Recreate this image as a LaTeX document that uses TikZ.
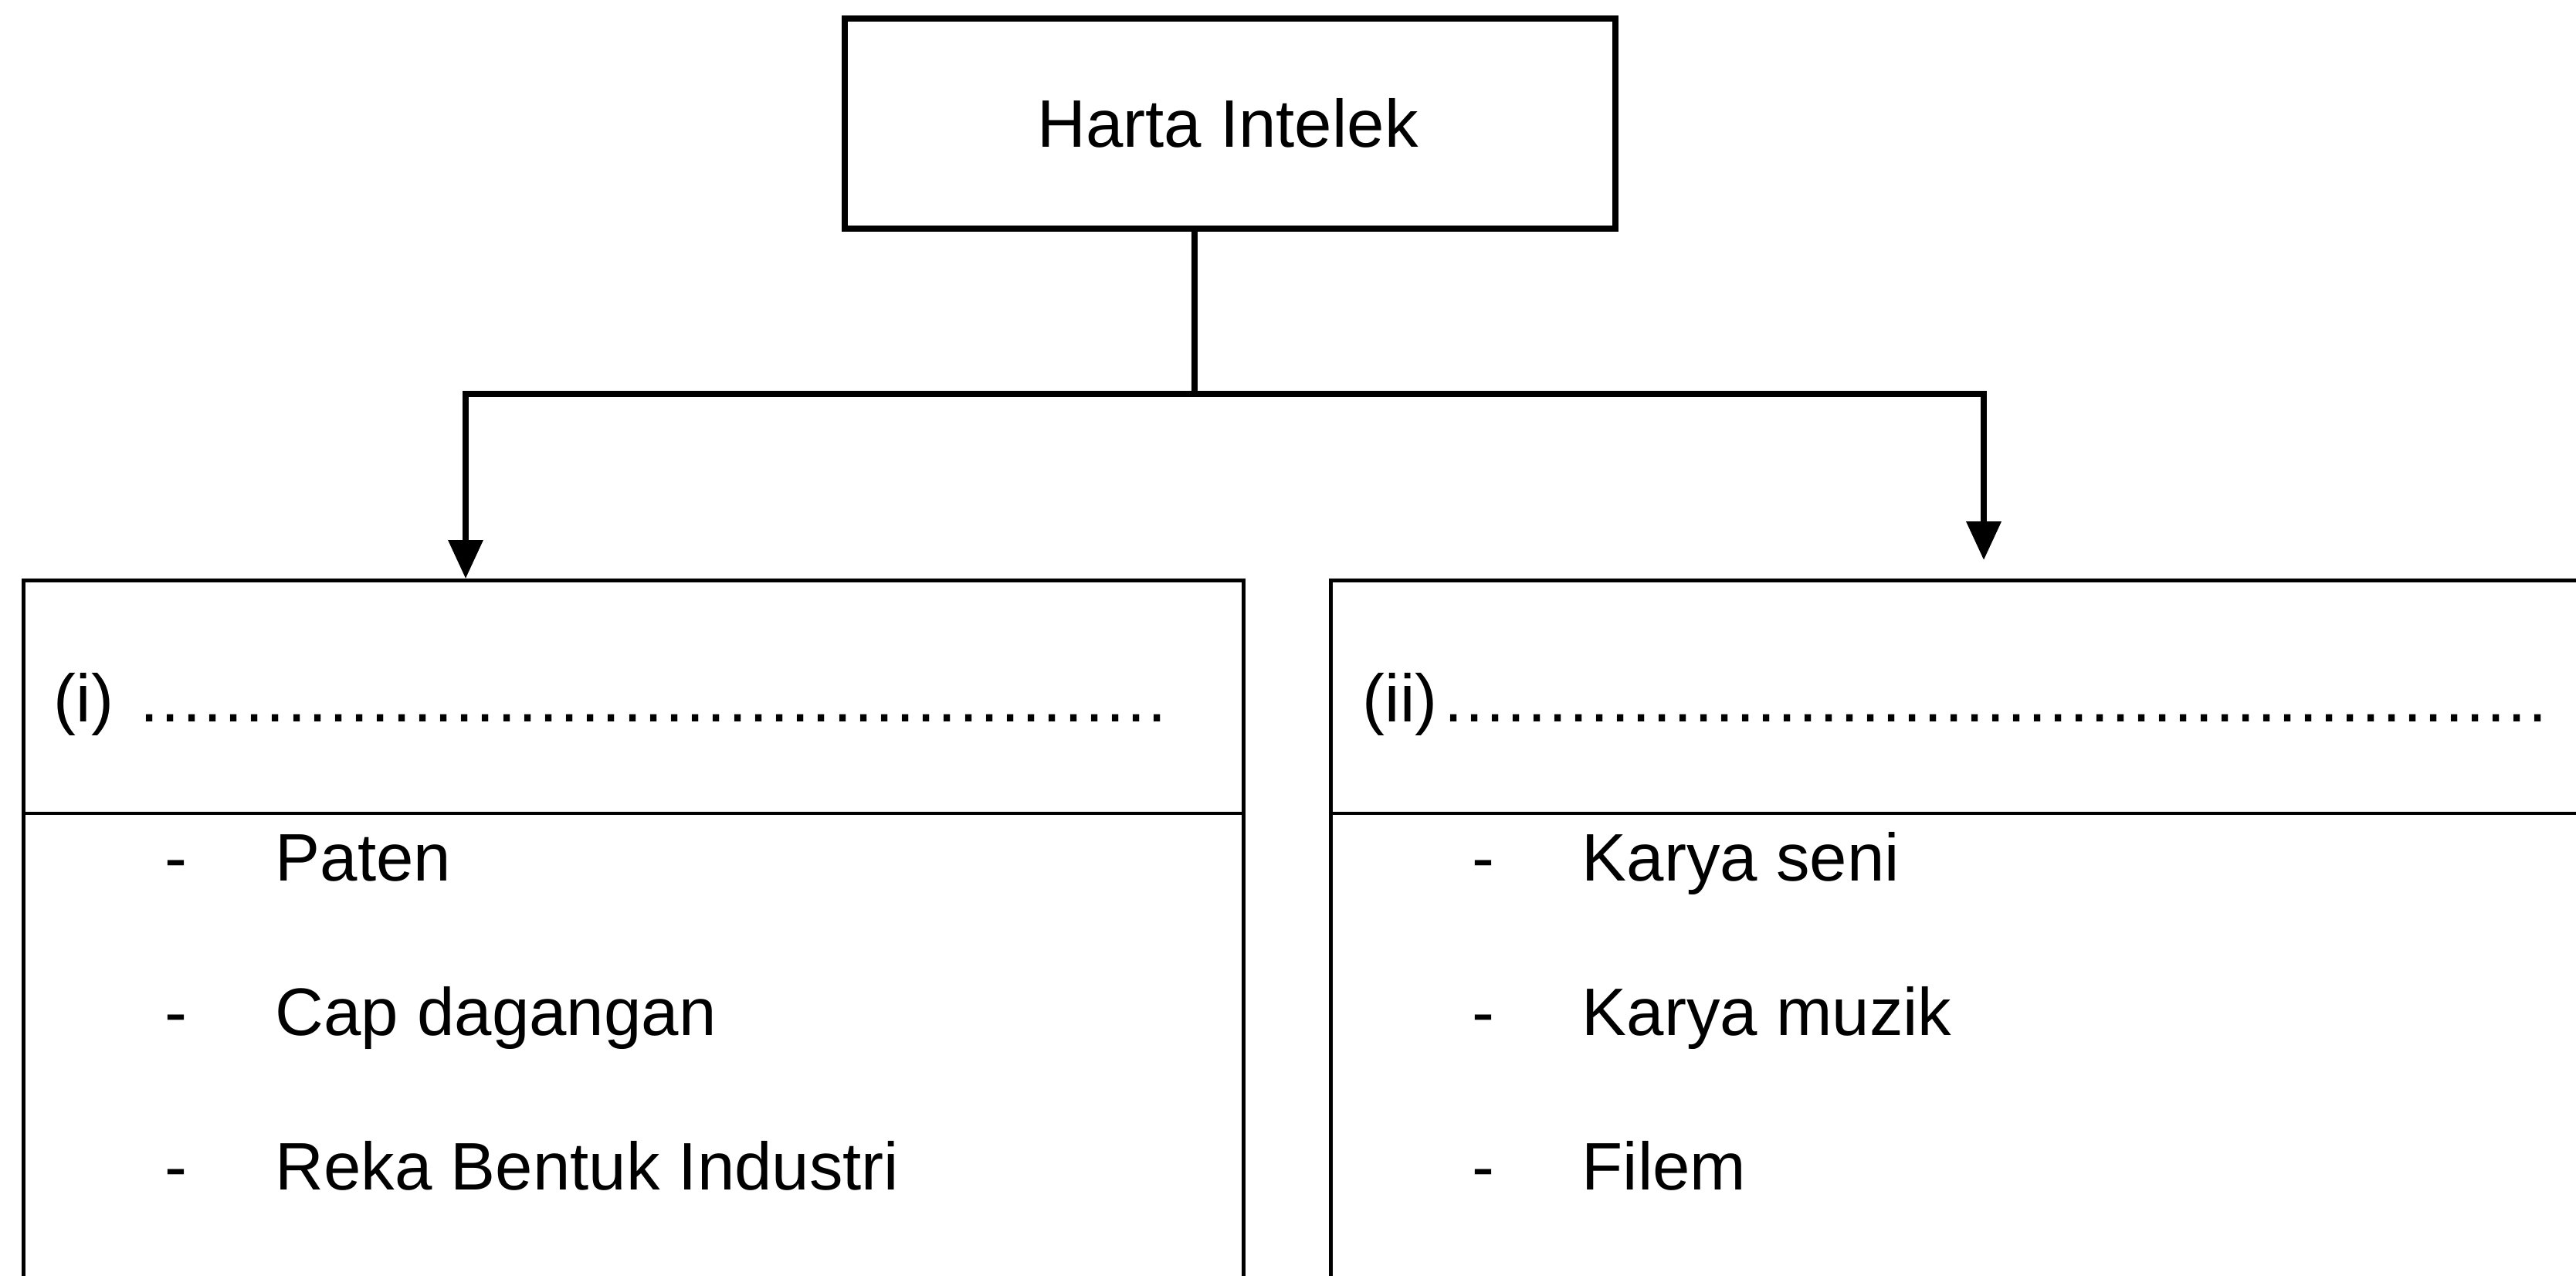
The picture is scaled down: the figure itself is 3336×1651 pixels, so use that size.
\documentclass[tikz,border=0pt]{standalone}
\usepackage{fontspec}
\setmainfont{Liberation Sans}
\usetikzlibrary{arrows.meta,calc}
\newlength\pxu
\setlength\pxu{0.25pt}
\newcommand\mydots[1]{\hbox to #1\pxu{\xleaders\hbox to 26.7\pxu{\hss.\hss}\hfill}}
\begin{document}
\begin{tikzpicture}[x=0.25pt,y=-0.25pt,
  box/.style={draw, line width=1.2pt, rectangle, inner sep=0pt, anchor=north west},
  topbox/.style={draw, line width=2.1pt, rectangle, inner sep=0pt, anchor=north west},
  txt/.style={anchor=base west, inner sep=0pt, font=\fontsize{21.75pt}{26pt}\selectfont},
  conn/.style={line width=1.8pt, line join=miter},
  arr/.style={-{Triangle[width=11pt,length=12.5pt]}}]
\useasboundingbox (0,0) rectangle (3336,1651);
\clip (0,0) rectangle (3336,1651);
\fill[white] (0,0) rectangle (3336,1651);

% boxes
\node[topbox, minimum width=998\pxu, minimum height=272\pxu] (top) at (1090,20) {};
\node[box, minimum width=1580\pxu, minimum height=1000\pxu] (lbox) at (28,749) {};
\node[box, minimum width=1700\pxu, minimum height=1000\pxu] (rbox) at (1721,749) {};

% dividers
\coordinate (dv) at (0,1053);
\draw[line width=1.2pt] (lbox.west |- dv) -- (lbox.east |- dv);
\draw[line width=1.2pt] (rbox.west |- dv) -- (rbox.east |- dv);

% connectors
\coordinate (jc) at (1547,510);
\coordinate (jl) at (603,510);
\coordinate (jr) at (2569,510);
\coordinate (rtip) at (2569,725);
\draw[conn] (jc |- top.south) -- (jc);
\draw[conn, arr] (jc) -- (jl) -- (jl |- lbox.north);
\draw[conn, arr] (jc) -- (jr) -- (rtip);

% texts
\node[txt, anchor=base] (ttl) at (1590,190) {Harta Intelek};
\node[txt] (lhead) at (69,934) {(i)\kern 33\pxu\mydots{1332}};
\node[txt] (rhead) at (1764,934) {(ii)\kern 8\pxu\mydots{1430}};

\node[txt] (l1d) at (213,1140) {-};
\node[txt] (l1) at (356,1140) {Paten};
\node[txt] (l2d) at (213,1340) {-};
\node[txt] (l2) at (356,1340) {Cap dagangan};
\node[txt] (l3d) at (213,1540) {-};
\node[txt] (l3) at (356,1540) {Reka Bentuk Industri};

\node[txt] (r1d) at (1906,1140) {-};
\node[txt] (r1) at (2048,1140) {Karya seni};
\node[txt] (r2d) at (1906,1340) {-};
\node[txt] (r2) at (2048,1340) {Karya muzik};
\node[txt] (r3d) at (1906,1540) {-};
\node[txt] (r3) at (2048,1540) {Filem};
\end{tikzpicture}
\end{document}
